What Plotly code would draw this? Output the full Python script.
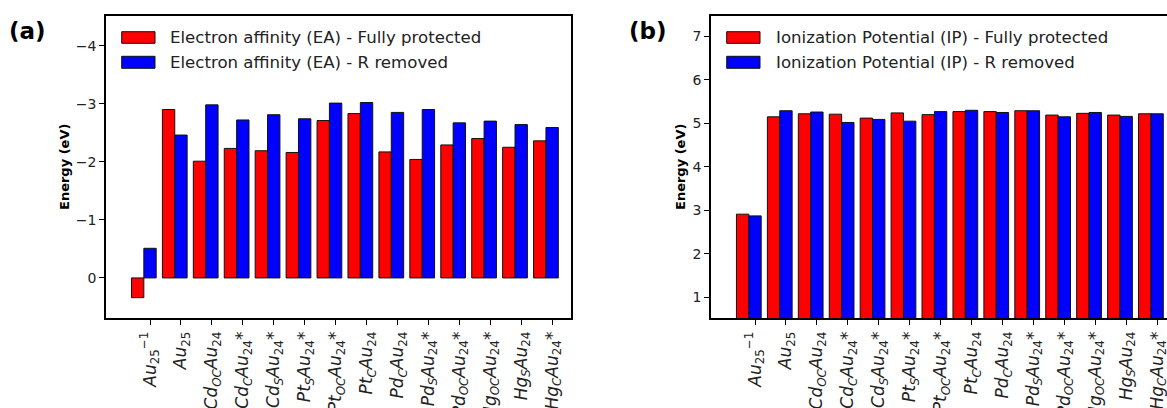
import numpy as np
import plotly.graph_objects as go

W, H = 1167, 408

labels = [
    "<i>Au</i><sub>25</sub><sup>−1</sup>",
    "<i>Au</i><sub>25</sub>",
    "<i>Cd</i><sub><i>OC</i></sub><i>Au</i><sub>24</sub>",
    "<i>Cd</i><sub><i>C</i></sub><i>Au</i><sub>24</sub>*",
    "<i>Cd</i><sub><i>S</i></sub><i>Au</i><sub>24</sub>*",
    "<i>Pt</i><sub><i>S</i></sub><i>Au</i><sub>24</sub>*",
    "<i>Pt</i><sub><i>OC</i></sub><i>Au</i><sub>24</sub>*",
    "<i>Pt</i><sub><i>C</i></sub><i>Au</i><sub>24</sub>",
    "<i>Pd</i><sub><i>C</i></sub><i>Au</i><sub>24</sub>",
    "<i>Pd</i><sub><i>S</i></sub><i>Au</i><sub>24</sub>*",
    "<i>Pd</i><sub><i>OC</i></sub><i>Au</i><sub>24</sub>*",
    "<i>Hg</i><sub><i>OC</i></sub><i>Au</i><sub>24</sub>*",
    "<i>Hg</i><sub><i>S</i></sub><i>Au</i><sub>24</sub>",
    "<i>Hg</i><sub><i>C</i></sub><i>Au</i><sub>24</sub>*",
]

ea_full = [0.34, -2.90, -2.01, -2.23, -2.19, -2.16, -2.71, -2.83, -2.17, -2.04, -2.29, -2.40, -2.25, -2.36]
ea_rrem = [-0.51, -2.46, -2.98, -2.72, -2.81, -2.74, -3.01, -3.02, -2.85, -2.90, -2.67, -2.70, -2.64, -2.59]

ip_full = [2.91, 5.15, 5.22, 5.21, 5.12, 5.24, 5.20, 5.27, 5.27, 5.29, 5.19, 5.23, 5.19, 5.22]
ip_rrem = [2.87, 5.29, 5.26, 5.02, 5.09, 5.05, 5.27, 5.30, 5.25, 5.29, 5.15, 5.25, 5.16, 5.22]

ea_names = ["Electron affinity (EA) - Fully protected", "Electron affinity (EA) - R removed"]
ip_names = ["Ionization Potential (IP) - Fully protected", "Ionization Potential (IP) - R removed"]

RED, BLUE = "#ff0000", "#0000ff"
pos = np.arange(len(labels))
BW = 0.4

def px_x(x):
    return x / W

def px_y(y):
    return 1 - y / H

fig = go.Figure()
for vals, col, off, xa, ya, nm in [
    (ea_full, RED, -0.6, "x", "y", ea_names[0]),
    (ea_rrem, BLUE, -0.2, "x", "y", ea_names[1]),
    (ip_full, RED, -0.6, "x2", "y2", ip_names[0]),
    (ip_rrem, BLUE, -0.2, "x2", "y2", ip_names[1]),
]:
    fig.add_trace(go.Bar(
        x=pos, y=vals, width=BW, offset=off, base=0,
        marker=dict(color=col, line=dict(color="#111111", width=1)),
        name=nm, xaxis=xa, yaxis=ya, showlegend=False,
    ))

tickfont = dict(family="DejaVu Sans", size=14, color="#222222")
xtickfont = dict(family="DejaVu Sans", size=17, color="#222222")

axis_common = dict(showline=True, linecolor="black", linewidth=1.6, ticks="outside",
                   ticklen=5, tickwidth=1.2, tickcolor="black", showgrid=False,
                   zeroline=False, automargin=False)

fig.update_layout(
    width=W, height=H, margin=dict(l=0, r=0, t=0, b=0, autoexpand=False),
    plot_bgcolor="white", paper_bgcolor="white", barmode="overlay",
    showlegend=False,
    xaxis=dict(domain=[px_x(106), px_x(571)], range=[-1.423, 13.61], anchor="y",
               tickmode="array", tickvals=pos, ticktext=labels, tickangle=-90,
               tickfont=xtickfont, mirror=True, ticklabeloverflow="allow", **axis_common),
    yaxis=dict(domain=[px_y(318), px_y(16)], range=[0.69, -4.51], anchor="x",
               tickmode="array", tickvals=[-4, -3, -2, -1, 0],
               ticktext=["−4", "−3", "−2", "−1", "0"],
               tickfont=tickfont, mirror=True, **axis_common),
    xaxis2=dict(domain=[px_x(711), 1.0], range=[-1.423, 13.32], anchor="y2",
                tickmode="array", tickvals=pos, ticktext=labels, tickangle=-90,
                tickfont=xtickfont, mirror=True, ticklabeloverflow="allow", **axis_common),
    yaxis2=dict(domain=[px_y(318), px_y(16)], range=[0.52, 7.47], anchor="x2",
                tickmode="array", tickvals=[1, 2, 3, 4, 5, 6, 7],
                tickfont=tickfont, mirror=False, **axis_common),
)

shapes = []
annots = []
legfont = dict(family="DejaVu Sans", size=16.6, color="#222222")
for (x0, x1, tx, names) in [(121.7, 155, 168, ea_names), (726.7, 760, 774, ip_names)]:
    for k, (yy0, yy1, col) in enumerate([(31.7, 43.3, RED), (56.3, 68.3, BLUE)]):
        shapes.append(dict(type="rect", xref="paper", yref="paper",
                           x0=px_x(x0), x1=px_x(x1), y0=px_y(yy1), y1=px_y(yy0),
                           fillcolor=col, line=dict(color="#111111", width=1)))
        annots.append(dict(xref="paper", yref="paper", x=px_x(tx), y=px_y((yy0 + yy1) / 2),
                           text=names[k], showarrow=False, xanchor="left", yanchor="middle",
                           font=legfont))

for xc in [64, 680]:
    annots.append(dict(xref="paper", yref="paper", x=px_x(xc), y=px_y(167),
                       text="<b>Energy (eV)</b>", textangle=-90, showarrow=False,
                       xanchor="center", yanchor="middle",
                       font=dict(family="DejaVu Sans", size=13, color="black")))

for txt, xl in [("(a)", 7), ("(b)", 627)]:
    annots.append(dict(xref="paper", yref="paper", x=px_x(xl), y=px_y(31),
                       text="<b>" + txt + "</b>", showarrow=False, xanchor="left",
                       yanchor="middle",
                       font=dict(family="DejaVu Sans", size=23, color="black")))

fig.update_layout(shapes=shapes, annotations=annots)
fig.write_html("out.html", config={"displayModeBar": False},
               post_script="document.body.style.margin='0';document.body.style.overflow='hidden';")
